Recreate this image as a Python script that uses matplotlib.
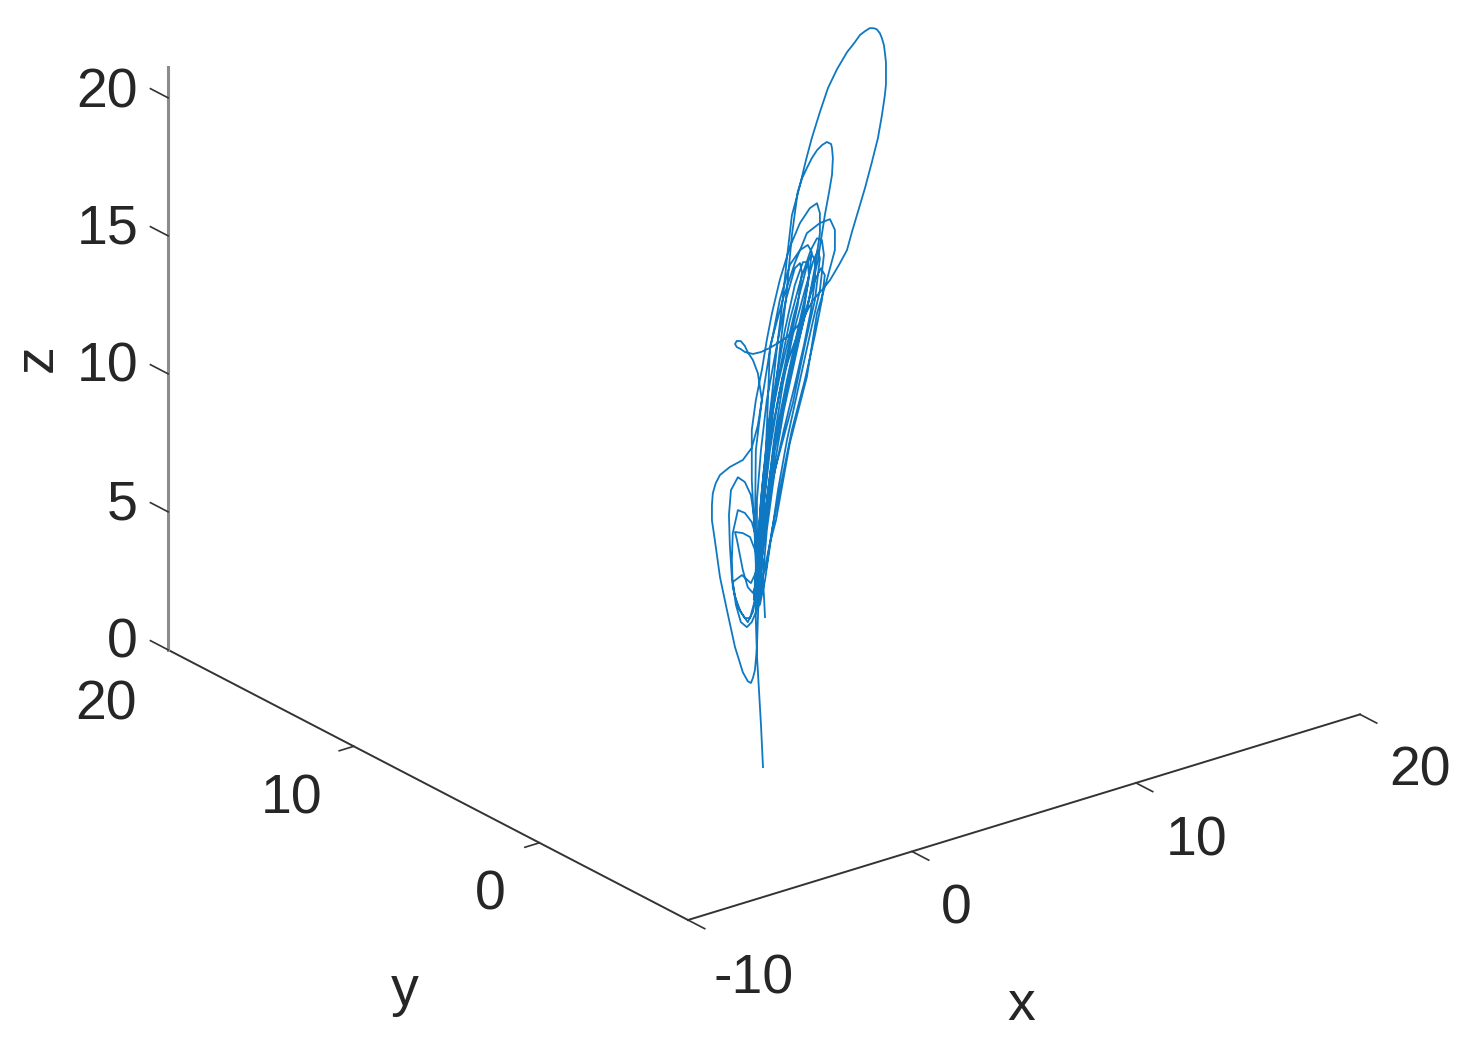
#! /usr/bin/env python3
import matplotlib
matplotlib.use("Agg")
import matplotlib.pyplot as plt
from mpl_toolkits.mplot3d import proj3d

W, H = 1473, 1055
FONT = ["Liberation Sans"]

x_ticks = [-10, 0, 10, 20]
y_ticks = [0, 10]
z_ticks = [0, 5, 10, 15, 20]
x_lim = (-10, 20)
y_lim = (-8, 20)
z_lim = (0, 21.1)

# trajectory, one pass per row
traj_x = [
    -.46, -.55, -.64, -.73, -.78, -.78, -.73, -.64, -.55, -.42, -.24, -.02, .25, .56, .92, 1.28, 1.54, 1.72, 1.86, 1.86, 1.68, 1.37, .96, .47, -.02, -.37, -.60, -.69,
    -.78, -.96, -1.18, -1.45, -1.67, -1.85, -1.94, -1.98, -1.89, -1.58, -1.27, -1.00, -.87, -.78, -.78, -.82,
    -1.04, -1.27, -1.58, -1.81, -1.85, -1.81, -1.58, -1.27, -.96, -.73, -.64,
    -.69, -.91, -1.14, -1.36, -1.62, -1.71, -1.36, -1.04, -.78,
    -.73, -1.00, -1.40, -1.81, -1.71, -1.45, -1.14, -.91, -.73,
    -.82, -.96, -.96, -.78, -.51, -.29, -.06, .29, .74, 1.19, 1.63, 1.95, 2.08, 2.08, 1.86, 1.50, .87, .42, .03, -.33, -.60, -.73, -.87,
    -.69, -.51, -.29, -.06, .15, .42, .61, .83, 1.19, 1.46, 1.72, 2.08, 2.44, 2.84, 3.29, 3.60, 3.87, 4.09, 4.31, 4.49, 4.62, 4.76, 4.85, 4.94, 4.98, 5.03, 5.03, 5.03, 4.98, 4.85, 4.67, 4.40, 4.09, 3.73, 3.51, 3.29, 2.93, 2.53, 2.17, 1.77, 1.46, 1.19, .87, .61, .21, -.15, -.55, -.91, -1.27, -1.45, -1.63, -1.71, -1.63, -1.45, -1.27, -1.14, -.91, -.69, -.51,
    -.69, -.96, -1.36, -1.94, -2.16, -2.38, -2.57, -2.70, -2.74, -2.74, -2.61, -2.38, -2.07, -1.71, -1.36, -1.14, -1.00, -.91, -.82, -.73, -.69, -.64,
    -.55, -.37, -.15, .07, .29, .56, .83, 1.09, 1.28, 1.50, 1.72, 1.95, 2.17, 2.39, 2.58, 2.62, 2.66, 2.62, 2.49, 2.30, 1.99, 1.54, 1.01, .52, .07, -.24, -.51, -.69,
    -.64, -.46, -.24, .12, .52, .96, 1.32, 1.54, 1.59, 1.37, .96, .52, .07, -.29, -.55, -.73,
    -.73, -.73, -.55, -.29, .12, .56, .96, 1.19, 1.28, 1.09, .70, .25, -.15, -.42, -.60, -.73,
    -.60, -.42, -.11, .29, .74, 1.22, 1.67, 1.95, 2.17, 2.26, 2.08, 1.68, 1.19, .61, .21, -.11, -.37, -.60,
    -.51, -.33, .03, .42, .87, 1.41, 1.77, 1.99, 2.08, 1.86, 1.41, .87, .07, -.29, -.51, -.69,
    -.82, -.78, -.51, -.15, .29, .74, 1.19, 1.54, 1.72, 1.54, 1.09, .61, .07, -.24, -.46, -.60,
    -.51, -.06, .47, .96, 1.45, 1.86, 2.13, 2.30, 2.17, 1.86, 1.41, .83, .38, -.06, -.33,
    -.60, -.46, -.33, -.24, -.15, .42, .96, 1.50, 2.08, 2.53, 2.75, 2.75, 2.39, 1.95, 1.50, .74, .12, -.15, -.46, -.37,
]
traj_z = [
    .56, 2.11, 3.40, 4.68, 5.96, 7.05, 8.13, 9.19, 10.26, 11.31, 12.35, 13.38, 14.41, 15.41, 16.59, 17.59, 18.36, 18.60, 18.35, 17.63, 16.58, 15.40, 14.05, 12.54, 10.84, 9.30, 7.91, 6.67,
    6.25, 5.94, 5.81, 6.06, 6.74, 7.79, 8.97, 10.07, 10.95, 11.34, 11.09, 10.55, 9.80, 8.86, 7.77, 6.70,
    6.10, 6.16, 6.63, 7.42, 8.41, 9.37, 10.15, 9.97, 9.56, 8.85, 7.92,
    7.39, 6.98, 7.25, 7.92, 9.07, 9.39, 9.26, 9.04, 8.43,
    7.76, 7.36, 7.75, 7.60, 7.04, 6.42, 5.98, 6.29, 7.04,
    8.87, 11.08, 12.90, 13.93, 14.96, 15.99, 16.90, 18.02, 19.11, 19.86, 20.29, 20.39, 20.00, 19.27, 18.10, 16.63, 15.44, 14.48, 13.01, 11.29, 9.54, 7.76, 6.72,
    8.84, 10.61, 12.36, 13.93, 15.51, 17.27, 18.74, 20.23, 21.23, 22.08, 22.81, 23.66, 24.44, 25.02, 25.53, 25.77, 26.01, 26.09, 26.15, 26.10, 26.03, 25.85, 25.65, 25.37, 25.11, 24.73, 24.37, 23.93, 23.55, 22.86, 22.07, 21.27, 20.40, 19.51, 18.96, 18.36, 17.91, 17.46, 17.19, 16.93, 16.53, 16.23, 16.02, 15.87, 15.76, 15.67, 15.62, 15.64, 15.80, 15.95, 16.07, 16.20, 16.29, 16.24, 16.02, 15.76, 15.42, 14.89, 13.87,
    13.00, 12.25, 11.91, 11.80, 11.71, 11.62, 11.37, 11.04, 10.62, 10.07, 9.32, 7.92, 6.65, 5.22, 4.22, 3.84, 3.74, 3.90, 4.16, 4.97, 5.94, 7.20,
    8.81, 10.57, 12.33, 13.90, 15.48, 17.23, 19.51, 21.01, 21.45, 21.78, 22.08, 22.31, 22.44, 22.50, 22.38, 22.22, 21.85, 21.25, 20.66, 19.87, 18.31, 16.80, 15.30, 13.61, 11.91, 10.18, 8.44, 7.03,
    8.65, 10.59, 12.72, 14.44, 16.15, 17.67, 18.41, 18.36, 17.87, 16.66, 15.31, 13.79, 12.09, 10.19, 8.45, 7.22,
    8.49, 10.30, 12.07, 13.81, 15.52, 17.23, 18.28, 18.41, 18.06, 16.91, 15.56, 13.86, 11.97, 10.04, 8.10, 6.68,
    8.64, 10.94, 13.05, 14.76, 16.46, 17.79, 18.76, 19.12, 19.00, 18.44, 17.21, 15.86, 14.17, 12.14, 10.43, 8.70, 7.31, 6.47,
    8.08, 9.84, 12.28, 14.19, 15.88, 17.38, 18.30, 18.68, 18.36, 16.91, 15.39, 13.41, 11.19, 9.10, 6.99, 6.31,
    9.23, 12.12, 13.87, 15.59, 17.30, 18.46, 18.88, 18.98, 18.68, 17.53, 16.01, 14.32, 12.27, 10.54, 8.78, 7.01,
    8.08, 10.86, 13.26, 14.95, 16.64, 17.63, 17.99, 17.70, 16.83, 15.64, 14.12, 12.45, 10.75, 9.05, 7.66,
    8.46, 10.23, 12.01, 13.80, 15.70, 17.27, 18.47, 19.42, 19.64, 19.67, 19.23, 18.50, 17.50, 16.40, 14.21, 12.01, 9.36, 8.60, 7.44, 5.97,
]
# depth can't be read from one view, keep it on a single plane
traj_y = [-0.53] * len(traj_x)

fig = plt.figure(figsize=(W / 100, H / 100), dpi=100)
ax = fig.add_axes([0.1, 0.1, 0.7, 0.7 * W / H], projection="3d", proj_type="ortho")
ax.view_init(elev=23.5, azim=-127.5)
ax.set_box_aspect((847, 854, 635))
ax.set_xlim(*x_lim, view_margin=0)
ax.set_ylim(*y_lim, view_margin=0)
ax.set_zlim(*z_lim, view_margin=0)
ax.set_axis_off()
ax.patch.set_alpha(0)


def to_px(x, y, z):
    fig.canvas.draw()
    px, py, _ = proj3d.proj_transform(x, y, z, ax.get_proj())
    return ax.transData.transform((px, py))


# size the box so the x axis is 672 px wide, then shift the corner into place
p0 = to_px(x_lim[0], y_lim[0], 0)
p1 = to_px(x_lim[1], y_lim[0], 0)
box = ax.get_position()
side = box.width * W * 672 / (p1[0] - p0[0])
ax.set_position([box.x0, box.y0, side / W, side / H])
p0 = to_px(x_lim[0], y_lim[0], 0)
box = ax.get_position()
ax.set_position([box.x0 + (688 - p0[0]) / W, box.y0 + (H - 920 - p0[1]) / H, box.width, box.height])

axis_color = "#333333"
ax.plot(x_lim, [y_lim[0]] * 2, [0, 0], color=axis_color, lw=1.4, clip_on=False)
ax.plot([x_lim[0]] * 2, y_lim, [0, 0], color=axis_color, lw=1.4, clip_on=False)
ax.plot([x_lim[0]] * 2, [y_lim[1]] * 2, z_lim, color="#8c8c8c", lw=2.2, clip_on=False)

for t in x_ticks:
    ax.plot([t, t], [y_lim[0], y_lim[0] - 0.9], [0, 0], color=axis_color, lw=1.2, clip_on=False)
for t in y_ticks:
    ax.plot([x_lim[0], x_lim[0] - 0.65], [t, t], [0, 0], color=axis_color, lw=1.2, clip_on=False)
for t in z_ticks:
    ax.plot([x_lim[0]] * 2, [y_lim[1], y_lim[1] + 0.95], [t, t], color=axis_color, lw=1.2, clip_on=False)

ax.plot(traj_x, traj_y, traj_z, color="#0f78c2", lw=1.3, clip_on=False)


def label(px, py, s, **kw):
    fig.text(px / W, 1 - (py + 3) / H, s, ha="center", va="center", family=FONT,
             fontsize=40, color="#262626", **kw)


for s, px, py in [("20", 107, 90), ("15", 108, 227), ("10", 108, 365), ("5", 122, 502), ("0", 122, 640)]:
    label(px, py, s)
for s, px, py in [("20", 106, 702), ("10", 292, 797), ("0", 490, 892)]:
    label(px, py, s)
for s, px, py in [("-10", 754, 977), ("0", 956, 907), ("10", 1197, 838), ("20", 1420, 769)]:
    label(px, py, s)
label(38, 355, "z", rotation=90)
label(405, 988, "y")
label(1021, 1003, "x")

fig.savefig("out.png", dpi=100)
